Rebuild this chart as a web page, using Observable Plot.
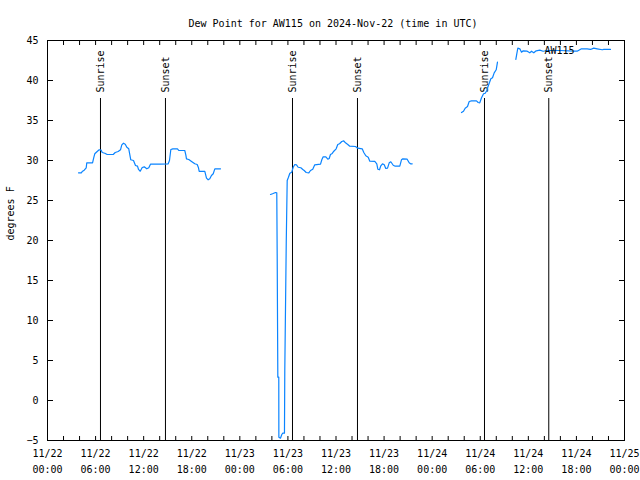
<!DOCTYPE html>
<html>
<head>
<meta charset="utf-8">
<script src="https://cdn.jsdelivr.net/npm/d3@7"></script>
<script src="https://cdn.jsdelivr.net/npm/@observablehq/plot@0.6"></script>
<style>
  html, body { margin: 0; padding: 0; background: #fff; }
  #chart svg { display: block; }
</style>
</head>
<body>
<div id="chart"></div>
<script>
// ---- data (hours since 2024-11-22 00:00 UTC, dew point in °F) ----
const title = "Dew Point for AW115 on 2024-Nov-22 (time in UTC)";
const yLabel = "degrees F";
const seriesName = "AW115";

const seg1Hours = [3.87,4.24,4.33,4.58,4.83,4.90,5.62,5.78,5.90,6.20,6.45,6.70,6.83,7.15,7.45,8.20,8.45,8.82,9.11,9.27,9.48,9.70,9.90,10.14,10.23,10.39,10.73,10.98,11.23,11.36,11.57,11.82,12.07,12.39,12.64,12.85,14.01,15.06,15.22,15.39,15.64,16.22,16.38,17.13,17.26,17.34,17.63,17.93,18.38,18.68,18.84,18.93,19.63,19.84,20.05,20.25,20.46,20.68,20.88,21.59];
const seg1Dew   = [28.46,28.46,28.63,28.79,29.09,29.71,29.71,30.38,30.84,31.13,31.34,31.29,31.0,30.91,30.75,30.75,31.0,31.13,31.34,31.96,32.16,32.04,31.66,31.46,30.96,30.09,30.0,29.38,29.29,28.88,28.66,29.13,29.21,28.96,29.09,29.54,29.54,29.59,30.0,31.38,31.46,31.46,31.25,31.25,30.71,30.21,30.13,29.91,29.59,29.5,29.09,28.63,28.63,27.79,27.59,27.71,28.13,28.34,28.96,28.96];

const seg2Hours = [27.83,28.08,28.45,28.61,28.66,28.74,28.86,28.87,29.07,29.24,29.36,29.57,29.61,29.79,29.91,30.07,30.24,30.48,30.66,30.86,31.07,31.28,31.61,31.86,32.03,32.28,32.61,32.82,33.10,33.35,34.07,34.23,34.40,34.73,34.98,35.15,35.31,35.53,35.73,36.02,36.22,36.44,36.72,36.97,37.18,37.47,37.72,38.43,38.72,39.27,39.47,39.72,40.02,40.22,40.84,41.09,41.22,41.43,41.59,41.80,42.02,42.21,42.43,42.64,42.84,43.14,43.39,43.96,44.17,44.34,44.88,45.13,45.30,45.51];
const seg2Dew   = [25.75,25.84,26.0,25.96,18.34,2.91,2.91,-4.59,-4.71,-4.25,-4.09,-4.09,3.75,19.59,27.5,27.91,28.41,28.54,29.16,29.5,29.46,29.16,29.09,28.88,28.75,28.5,28.46,28.75,28.91,29.46,29.54,30.09,30.46,30.46,30.16,30.25,30.75,30.88,31.16,31.46,32.0,32.09,32.38,32.46,32.21,32.0,31.79,31.75,31.54,31.46,31.0,30.59,30.41,29.91,29.88,29.59,28.91,28.84,29.34,29.59,29.46,29.0,29.04,29.71,29.84,29.41,29.29,29.29,30.09,30.21,30.16,29.71,29.59,29.59];

const seg3Hours = [51.66,51.91,52.12,52.41,52.62,52.91,53.53,53.74,53.94,54.16,54.41,54.62,54.82,54.94,55.12,55.32,55.53,55.74,55.99,56.15];
const seg3Dew   = [36.0,36.16,36.54,36.75,37.38,37.46,37.46,37.25,37.21,37.84,38.34,38.41,38.75,39.16,39.66,40.21,40.34,40.96,41.34,42.29];

const seg4Hours = [58.44,58.56,58.69,58.94,59.15,59.36,59.86,60.18,60.39,60.68,60.98,61.43,61.85,62.35,64.01,65.67,66.09,66.63,67.34,67.76,68.17,68.59,69.22,69.42,70.25];
const seg4Dew   = [42.63,43.34,44.04,43.96,43.54,43.71,43.66,43.46,43.66,43.46,43.71,43.79,43.66,43.75,43.75,43.66,43.66,43.96,43.96,43.88,44.04,43.96,43.84,43.88,43.88];

const sunEventHours = [6.61, 14.72, 30.57, 38.68, 54.53, 62.55];
const sunEventLabels = ["Sunrise", "Sunset", "Sunrise", "Sunset", "Sunrise", "Sunset"];

const xTickHours = [0, 6, 12, 18, 24, 30, 36, 42, 48, 54, 60, 66, 72];
const yTicks = [-5, 0, 5, 10, 15, 20, 25, 30, 35, 40, 45];

// ---- build tables ----
const t0 = Date.UTC(2024, 10, 22);
const toDate = h => new Date(t0 + h * 3600e3);

const segments = [
  [seg1Hours, seg1Dew], [seg2Hours, seg2Dew], [seg3Hours, seg3Dew], [seg4Hours, seg4Dew]
];
const rows = segments.flatMap(([hs, vs], i) => hs.map((h, j) => ({time: toDate(h), dew: vs[j], seg: i})));
const events = sunEventHours.map((h, i) => ({time: toDate(h), label: sunEventLabels[i]}));
const xTicks = xTickHours.map(toDate);
const fmt = d3.utcFormat("%m/%d\n%H:%M");
const minor = d3.utcHour.every(2);

const chart = Plot.plot({
  width: 640,
  height: 480,
  marginLeft: 47,
  marginRight: 16,
  marginTop: 40,
  marginBottom: 40,
  style: {fontFamily: "'DejaVu Sans Mono', monospace", fontSize: "10px", background: "#fff", color: "#000"},
  x: {type: "utc", domain: [toDate(0), toDate(72)]},
  y: {domain: [-5, 45]},
  marks: [
    Plot.ruleX(events, {x: "time", insetTop: 58, stroke: "#000", strokeWidth: 1}),
    Plot.text(events, {x: "time", text: "label", frameAnchor: "top", rotate: -90, textAnchor: "start", lineAnchor: "middle", dy: 52, fill: "#000"}),
    Plot.line(rows, {x: "time", y: "dew", z: "seg", stroke: "#0a84ff", strokeWidth: 1.2}),
    Plot.frame({stroke: "#000"}),
    Plot.axisX({ticks: minor, tickSize: -4, text: null, label: null}),
    Plot.axisX({anchor: "top", ticks: minor, tickSize: -4, text: null, label: null}),
    Plot.axisX({ticks: xTicks, tickSize: 0, tickPadding: 5, tickFormat: fmt, lineHeight: 1.6, label: null}),
    Plot.axisY({ticks: yTicks, tickSize: -6, text: null, label: null}),
    Plot.axisY({anchor: "right", ticks: yTicks, tickSize: -6, text: null, label: null}),
    Plot.axisY({ticks: yTicks, tickSize: 0, tickPadding: 9, label: null}),
    Plot.text([yLabel], {frameAnchor: "left", rotate: -90, dx: -37, fill: "#000"}),
    Plot.text([title], {frameAnchor: "top", dy: -21, dx: -3, fill: "#000"}),
    Plot.text([seriesName], {frameAnchor: "top-right", textAnchor: "end", dx: -50, dy: 6, fill: "#000"})
  ]
});
document.getElementById("chart").appendChild(chart);
</script>
</body>
</html>
